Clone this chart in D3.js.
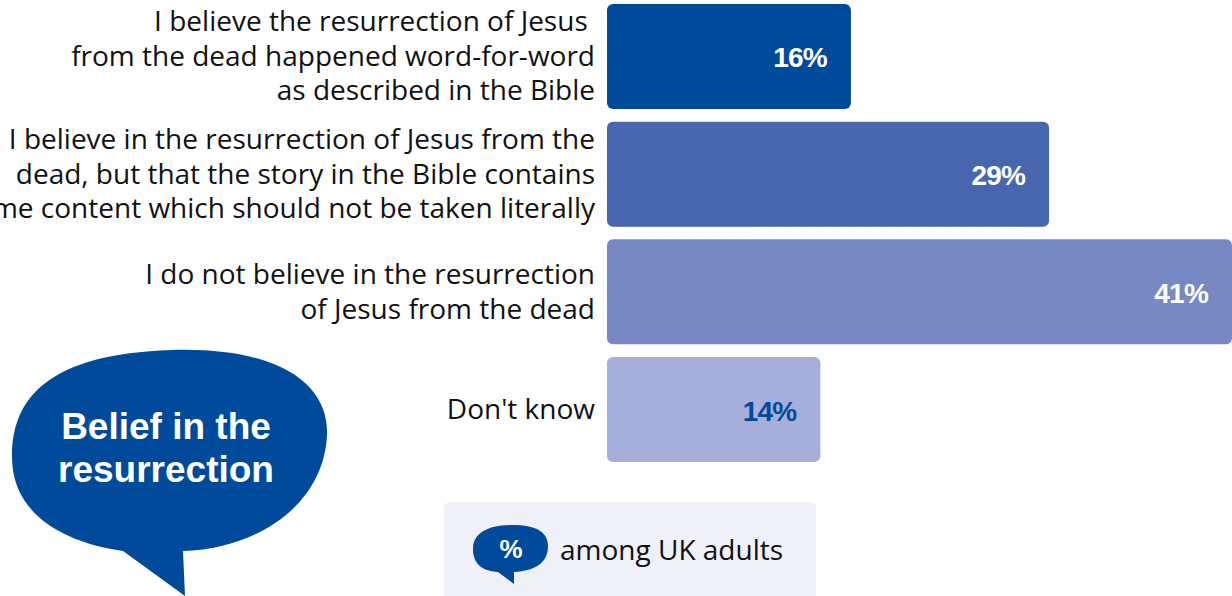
<!DOCTYPE html>
<html><head><meta charset="utf-8">
<script src="https://cdn.jsdelivr.net/npm/d3@7"></script>
<style>
html,body{margin:0;padding:0;background:#fff;overflow:hidden}
svg{display:block}
</style></head>
<body>
<script>
const categories = [
  ["I believe the resurrection of Jesus ", "from the dead happened word-for-word", "as described in the Bible"],
  ["I believe in the resurrection of Jesus from the", "dead, but that the story in the Bible contains", "some content which should not be taken literally"],
  ["I do not believe in the resurrection", "of Jesus from the dead"],
  ["Don't know"]
];
const values = [16, 29, 41, 14];
const barColors = ["#004a9b", "#4766ad", "#7888c3", "#a7aed9"];
const valueColors = ["#ffffff", "#ffffff", "#ffffff", "#004a9b"];
const titleLines = ["Belief in the", "resurrection"];
const legendText = "among UK adults";

const W = 1232, H = 596;
const svg = d3.select("body").append("svg").attr("width", W).attr("height", H);

const x = d3.scaleLinear().domain([0, 41]).range([607, 1232]);
const y = d3.scaleBand().domain(d3.range(values.length)).range([4, 462]).paddingInner(0.108);

const labelFont = "'Open Sans', 'Noto Sans', sans-serif";

// bars
svg.selectAll("rect.bar").data(values).join("rect")
  .attr("class", "bar")
  .attr("x", x(0))
  .attr("y", (d, i) => y(i))
  .attr("width", d => x(d) - x(0))
  .attr("height", y.bandwidth())
  .attr("rx", 6)
  .attr("fill", (d, i) => barColors[i]);

// value labels
svg.selectAll("text.val").data(values).join("text")
  .attr("class", "val")
  .attr("x", d => x(d) - 24)
  .attr("y", (d, i) => y(i) + y.bandwidth() / 2 + 11)
  .attr("text-anchor", "end")
  .attr("font-family", "'Liberation Sans', Arial, sans-serif")
  .attr("font-weight", "bold")
  .attr("font-size", 28)
  .attr("letter-spacing", -0.8)
  .attr("fill", (d, i) => valueColors[i])
  .text(d => d + "%");

// category labels
const lineH = 34.5;
categories.forEach((lines, i) => {
  const cy = y(i) + y.bandwidth() / 2;
  const t = svg.append("text")
    .attr("text-anchor", "end")
    .attr("font-family", labelFont)
    .attr("font-size", 28)
    .attr("fill", "#111")
    .style("white-space", "pre");
  lines.forEach((ln, j) => {
    t.append("tspan")
      .attr("x", 595)
      .attr("y", cy + 9.5 + (j - (lines.length - 1) / 2) * lineH)
      .text(ln);
  });
});

// title bubble
svg.append("path")
  .attr("d", "M123,551 C60,542 12,512 12,457 C12,398 48,354 172,350 C292,347 329,392 327,435 C324,502 262,548 183,551 L185,596 Z")
  .attr("fill", "#004a9b");
const tt = svg.append("text")
  .attr("text-anchor", "middle")
  .attr("font-family", "'Liberation Sans', Arial, sans-serif")
  .attr("font-weight", "bold")
  .attr("font-size", 37)
  .attr("fill", "#fff");
titleLines.forEach((ln, j) => {
  tt.append("tspan").attr("x", 166).attr("y", 439 + j * 43).text(ln);
});

// legend
svg.append("rect")
  .attr("x", 444).attr("y", 502).attr("width", 372).attr("height", 110)
  .attr("rx", 6).attr("fill", "#eff0f8");
svg.append("path")
  .attr("d", "M498,572 C482,571 473,564 473,549 C473,533 488,525 512,525 C538,525 548,533 548,546 C548,562 536,571 514,572 L514,584 Z")
  .attr("fill", "#004a9b");
svg.append("text")
  .attr("x", 511).attr("y", 558)
  .attr("text-anchor", "middle")
  .attr("font-family", "'Liberation Sans', Arial, sans-serif")
  .attr("font-weight", "bold")
  .attr("font-size", 26)
  .attr("fill", "#fff")
  .text("%");
svg.append("text")
  .attr("x", 560).attr("y", 560)
  .attr("font-family", labelFont)
  .attr("font-size", 28)
  .attr("fill", "#111")
  .text(legendText);
</script>
</body></html>
